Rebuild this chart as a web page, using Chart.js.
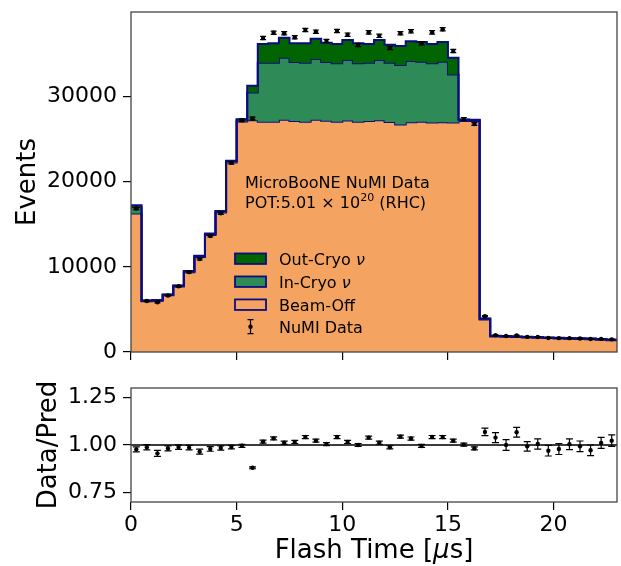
<!DOCTYPE html>
<html>
<head>
<meta charset="utf-8">
<script src="https://cdn.jsdelivr.net/npm/chart.js@4.4.1/dist/chart.umd.min.js"></script>
<style>
  html, body { margin: 0; padding: 0; background: #fff; }
  #wrap { position: relative; width: 621px; height: 566px; }
  #mainChart { position: absolute; left: 0; top: 0; }
  #ratioChart { position: absolute; left: 0; top: 370px; }
</style>
</head>
<body>
<div id="wrap">
  <canvas id="mainChart" width="621" height="370"></canvas>
  <canvas id="ratioChart" width="621" height="196"></canvas>
</div>
<script>
// ---- data (flash time bins in µs) ----
const binEdges = [0, 0.5, 1, 1.5, 2, 2.5, 3, 3.5, 4, 4.5, 5, 5.5, 6, 6.5, 7, 7.5, 8, 8.5, 9, 9.5,
  10, 10.5, 11, 11.5, 12, 12.5, 13, 13.5, 14, 14.5, 15, 15.5, 16, 16.5, 17, 17.5, 18, 18.5, 19, 19.5,
  20, 20.5, 21, 21.5, 22, 22.5, 23];

const beamOff = [16250, 5960, 6010, 6650, 7690, 9370, 11150, 13730, 16360, 22230,
  27050, 27200, 27020, 27020, 27250, 27100, 27020, 27250, 27130, 27020,
  27170, 27020, 27100, 27210, 26980, 26710, 26950, 27020, 26940, 26950,
  26940, 27100, 27100, 3800, 1830, 1800, 1750, 1710, 1680, 1630,
  1590, 1550, 1530, 1500, 1450, 1380];
const inCryo = [750, 60, 60, 70, 80, 100, 110, 130, 150, 180,
  200, 3250, 6930, 6930, 7290, 6930, 6930, 7130, 6900, 6860,
  7100, 6860, 6850, 7060, 6970, 6970, 7200, 7050, 6940, 7120,
  5640, 150, 120, 100, 50, 50, 50, 50, 50, 50,
  50, 50, 50, 50, 50, 50];
const outCryo = [230, 30, 30, 30, 30, 30, 40, 40, 40, 40,
  50, 800, 2200, 2280, 2350, 2200, 2280, 2390, 2270, 2270,
  2340, 2350, 2200, 2340, 2120, 2230, 2310, 2310, 2270, 2310,
  1960, 40, 30, 30, 20, 20, 20, 20, 20, 20,
  20, 20, 20, 20, 20, 20];
const numiData = [16840, 5980, 5830, 6630, 7710, 9370, 10900, 13610, 16290, 22200,
  27200, 27400, 36850, 37470, 37400, 36930, 37790, 37590, 36500, 37670,
  37240, 36030, 37510, 37100, 35670, 37400, 37630, 36230, 37510, 37870,
  35320, 27330, 26760, 4200, 1975, 1870, 1940, 1770, 1760, 1650,
  1625, 1625, 1590, 1525, 1535, 1485];
const numiErr = [130, 80, 80, 80, 90, 100, 105, 115, 130, 150,
  165, 165, 190, 195, 195, 190, 195, 195, 190, 195,
  195, 190, 195, 195, 190, 195, 195, 190, 195, 195,
  190, 165, 165, 65, 45, 45, 45, 40, 40, 40,
  40, 40, 40, 40, 40, 40];

const ratioVals = [0.977, 0.988, 0.956, 0.982, 0.989, 0.986, 0.965, 0.979, 0.984, 0.989,
  0.996, 0.880, 1.018, 1.035, 1.012, 1.016, 1.042, 1.023, 1.005, 1.042,
  1.016, 1.000, 1.039, 1.012, 0.988, 1.044, 1.034, 0.995, 1.042, 1.042,
  1.023, 1.002, 0.982, 1.069, 1.039, 1.000, 1.067, 0.993, 1.005, 0.970,
  0.979, 1.004, 0.993, 0.972, 1.011, 1.023];
const ratioErr = [0.013, 0.014, 0.016, 0.013, 0.012, 0.012, 0.013, 0.012, 0.011, 0.009,
  0.008, 0.005, 0.008, 0.008, 0.008, 0.008, 0.008, 0.008, 0.008, 0.008,
  0.008, 0.008, 0.008, 0.008, 0.008, 0.008, 0.008, 0.008, 0.008, 0.008,
  0.008, 0.008, 0.008, 0.020, 0.026, 0.028, 0.026, 0.025, 0.027, 0.028,
  0.029, 0.028, 0.028, 0.028, 0.029, 0.030];

const xTicks = [0, 5, 10, 15, 20];
const yTicks = [0, 10000, 20000, 30000];
const ratioTicks = [0.75, 1.0, 1.25];

// ---- helpers ----
const FONT = 'DejaVu Sans';
Chart.defaults.font.family = FONT;
Chart.defaults.color = '#000';

const stackIn = beamOff.map((v, i) => v + inCryo[i]);
const stackOut = stackIn.map((v, i) => v + outCryo[i]);
const binCentres = beamOff.map((_, i) => (binEdges[i] + binEdges[i + 1]) / 2);

function stepData(vals) {
  return binEdges.map((x, i) => ({ x: x, y: vals[Math.min(i, vals.length - 1)] }));
}

function tickMarks() {
  return { display: true, drawOnChartArea: false, drawTicks: true, tickLength: 8, color: '#000', lineWidth: 1.2 };
}

function zeroPad(s) {
  s.paddingTop = 0; s.paddingBottom = 0; s.paddingLeft = 0; s.paddingRight = 0;
}

// error bars for any dataset carrying an "errors" list
const errorBars = {
  id: 'errorBars',
  afterDatasetsDraw(chart) {
    const ctx = chart.ctx;
    const ys = chart.scales.y;
    chart.data.datasets.forEach((ds, di) => {
      if (!ds.errors) return;
      const meta = chart.getDatasetMeta(di);
      ctx.save();
      ctx.strokeStyle = '#000';
      ctx.lineWidth = 1.2;
      meta.data.forEach((pt, i) => {
        const v = ds.data[i].y, e = ds.errors[i];
        const y1 = ys.getPixelForValue(v - e), y2 = ys.getPixelForValue(v + e);
        const cw = ds.capHalf;
        ctx.beginPath();
        ctx.moveTo(pt.x, y1); ctx.lineTo(pt.x, y2);
        ctx.moveTo(pt.x - cw, y1); ctx.lineTo(pt.x + cw, y1);
        ctx.moveTo(pt.x - cw, y2); ctx.lineTo(pt.x + cw, y2);
        ctx.stroke();
      });
      ctx.restore();
    });
  }
};

function drawFrame(chart) {
  const a = chart.chartArea, ctx = chart.ctx;
  ctx.save();
  ctx.strokeStyle = '#444';
  ctx.lineWidth = 1.3;
  ctx.strokeRect(a.left, a.top, a.right - a.left, a.bottom - a.top);
  ctx.restore();
}

function drawYTitle(ctx, text, x, yMid) {
  ctx.save();
  ctx.translate(x, yMid);
  ctx.rotate(-Math.PI / 2);
  ctx.font = '26px "' + FONT + '"';
  ctx.fillStyle = '#000';
  ctx.textAlign = 'center';
  ctx.textBaseline = 'alphabetic';
  ctx.fillText(text, 0, 0);
  ctx.restore();
}

// text run with plain / italic / superscript parts
function drawRuns(ctx, runs, x, y) {
  runs.forEach(r => {
    ctx.font = (r.italic ? 'italic ' : '') + r.size + 'px "' + FONT + '"';
    ctx.fillText(r.t, x, y - (r.rise || 0));
    x += ctx.measureText(r.t).width;
  });
}
function runsWidth(ctx, runs) {
  let w = 0;
  runs.forEach(r => {
    ctx.font = (r.italic ? 'italic ' : '') + r.size + 'px "' + FONT + '"';
    w += ctx.measureText(r.t).width;
  });
  return w;
}

const mainDecor = {
  id: 'mainDecor',
  afterDraw(chart) {
    const ctx = chart.ctx, a = chart.chartArea;
    drawFrame(chart);
    drawYTitle(ctx, 'Events', 35, (a.top + a.bottom) / 2);

    // annotation
    ctx.save();
    ctx.fillStyle = '#000';
    ctx.textBaseline = 'alphabetic';
    drawRuns(ctx, [{ t: 'MicroBooNE NuMI Data', size: 16 }], 245, 188);
    drawRuns(ctx, [
      { t: 'POT:5.01 \u00d7 10', size: 16 },
      { t: '20', size: 11, rise: 7 },
      { t: ' (RHC)', size: 16 }
    ], 245, 208);

    // legend
    const ds = chart.data.datasets;
    const entries = [ds[2], ds[1], ds[0]];
    const lx = 235, lw = 31, lh = 10.5, tx = 279;
    let ly = 258.7;
    entries.forEach(d => {
      ctx.fillStyle = d.backgroundColor;
      ctx.fillRect(lx, ly - lh / 2, lw, lh);
      ctx.strokeStyle = d.borderColor;
      ctx.lineWidth = 1.8;
      ctx.strokeRect(lx, ly - lh / 2, lw, lh);
      ctx.fillStyle = '#000';
      drawRuns(ctx, d.legendRuns, tx, ly + 5.8);
      ly += 23;
    });
    ly -= 1;
    const cx = lx + lw / 2;
    ctx.strokeStyle = '#000';
    ctx.lineWidth = 1.2;
    ctx.beginPath();
    ctx.moveTo(cx, ly - 7); ctx.lineTo(cx, ly + 7);
    ctx.moveTo(cx - 3, ly - 7); ctx.lineTo(cx + 3, ly - 7);
    ctx.moveTo(cx - 3, ly + 7); ctx.lineTo(cx + 3, ly + 7);
    ctx.stroke();
    ctx.beginPath();
    ctx.arc(cx, ly, 2.2, 0, Math.PI * 2);
    ctx.fillStyle = '#000';
    ctx.fill();
    drawRuns(ctx, [{ t: 'NuMI Data', size: 16 }], tx, ly + 5.8);
    ctx.restore();
  }
};

const ratioDecor = {
  id: 'ratioDecor',
  beforeDatasetsDraw(chart) {
    const ctx = chart.ctx, a = chart.chartArea;
    const y1 = chart.scales.y.getPixelForValue(1);
    ctx.save();
    ctx.strokeStyle = '#3c3c3c';
    ctx.lineWidth = 1.8;
    ctx.beginPath();
    ctx.moveTo(a.left, y1); ctx.lineTo(a.right, y1);
    ctx.stroke();
    ctx.restore();
  },
  afterDraw(chart) {
    const ctx = chart.ctx, a = chart.chartArea;
    drawFrame(chart);
    drawYTitle(ctx, 'Data/Pred', 56, (a.top + a.bottom) / 2);
    const runs = [
      { t: 'Flash Time [', size: 26 },
      { t: '\u03bc', size: 26, italic: true },
      { t: 's]', size: 26 }
    ];
    ctx.save();
    ctx.fillStyle = '#000';
    ctx.textBaseline = 'alphabetic';
    const w = runsWidth(ctx, runs);
    drawRuns(ctx, runs, (a.left + a.right) / 2 - w / 2, 188);
    ctx.restore();
  }
};

// ---- main histogram ----
new Chart(document.getElementById('mainChart'), {
  type: 'line',
  data: {
    datasets: [
      {
        label: 'Beam-Off', data: stepData(beamOff), stepped: true, fill: 'origin',
        backgroundColor: '#f4a460', borderColor: '#0c0c80', borderWidth: 2, pointRadius: 0, order: 3,
        legendRuns: [{ t: 'Beam-Off', size: 16 }]
      },
      {
        label: 'In-Cryo', data: stepData(stackIn), stepped: true, fill: '-1',
        backgroundColor: '#2e8b57', borderColor: '#0c0c80', borderWidth: 2, pointRadius: 0, order: 2,
        legendRuns: [{ t: 'In-Cryo ', size: 16 }, { t: '\u03bd', size: 16, italic: true }]
      },
      {
        label: 'Out-Cryo', data: stepData(stackOut), stepped: true, fill: '-1',
        backgroundColor: '#006400', borderColor: '#0c0c80', borderWidth: 2, pointRadius: 0, order: 1,
        legendRuns: [{ t: 'Out-Cryo ', size: 16 }, { t: '\u03bd', size: 16, italic: true }]
      },
      {
        type: 'scatter', label: 'NuMI Data',
        data: binCentres.map((x, i) => ({ x: x, y: numiData[i] })),
        errors: numiErr, capHalf: 3,
        pointRadius: 2.2, pointBackgroundColor: '#000', pointBorderWidth: 0, order: 0
      }
    ]
  },
  options: {
    responsive: false,
    animation: false,
    events: [],
    layout: { padding: { left: 0, right: 1, top: 12, bottom: 0 } },
    plugins: { legend: { display: false }, tooltip: { enabled: false } },
    scales: {
      x: {
        type: 'linear', min: 0, max: 23,
        afterBuildTicks: s => { s.ticks = xTicks.map(v => ({ value: v })); },
        afterFit: s => { s.height = 18; zeroPad(s); },
        ticks: { display: false },
        grid: tickMarks(),
        border: { display: false }
      },
      y: {
        type: 'linear', min: 0, max: 39900,
        afterBuildTicks: s => { s.ticks = yTicks.map(v => ({ value: v })); },
        afterFit: s => { s.width = 131; zeroPad(s); },
        ticks: { font: { size: 22 }, padding: 6, color: '#000', callback: v => String(v) },
        grid: tickMarks(),
        border: { display: false }
      }
    }
  },
  plugins: [errorBars, mainDecor]
});

// ---- ratio panel ----
new Chart(document.getElementById('ratioChart'), {
  type: 'scatter',
  data: {
    datasets: [{
      label: 'Data/Pred',
      data: binCentres.map((x, i) => ({ x: x, y: ratioVals[i] })),
      errors: ratioErr, capHalf: 3.5,
      pointRadius: 2.2, pointBackgroundColor: '#000', pointBorderWidth: 0
    }]
  },
  options: {
    responsive: false,
    animation: false,
    events: [],
    layout: { padding: { left: 0, right: 1, top: 18, bottom: 0 } },
    plugins: { legend: { display: false }, tooltip: { enabled: false } },
    scales: {
      x: {
        type: 'linear', min: 0, max: 23,
        afterBuildTicks: s => { s.ticks = xTicks.map(v => ({ value: v })); },
        afterFit: s => { s.height = 64; zeroPad(s); },
        ticks: { font: { size: 22 }, padding: 2, color: '#000', maxRotation: 0, callback: v => String(v) },
        grid: tickMarks(),
        border: { display: false }
      },
      y: {
        type: 'linear', min: 0.7, max: 1.3,
        afterBuildTicks: s => { s.ticks = ratioTicks.map(v => ({ value: v })); },
        afterFit: s => { s.width = 131; zeroPad(s); },
        ticks: { font: { size: 22 }, padding: 6, color: '#000', callback: v => Number(v).toFixed(2) },
        grid: tickMarks(),
        border: { display: false }
      }
    }
  },
  plugins: [errorBars, ratioDecor]
});
</script>
</body>
</html>
